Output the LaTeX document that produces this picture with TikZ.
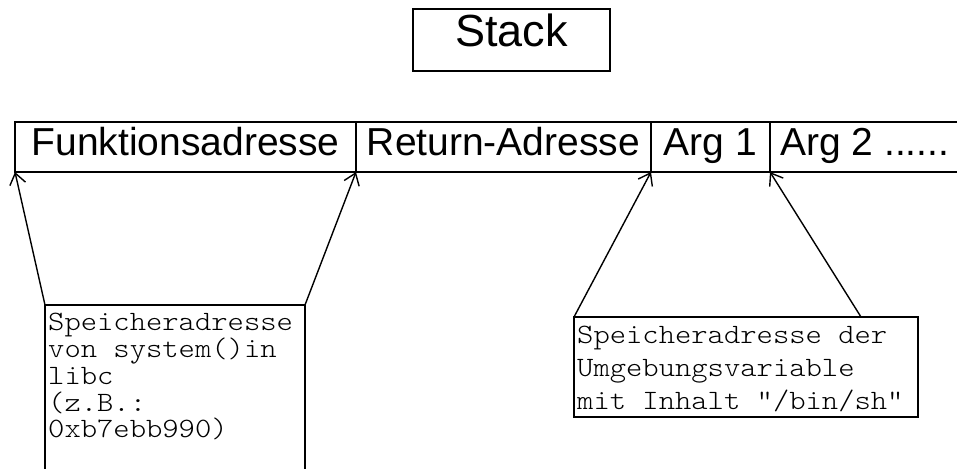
\documentclass[tikz,border=0pt]{standalone}
\usepackage{fontspec}
\setmainfont{Liberation Sans}
\newfontfamily\monofont{lmmonolt10-regular.otf}[FakeStretch=1.11]
\usetikzlibrary{arrows.meta}

\tikzset{
  cell/.style={draw, line width=2pt, inner sep=0pt, outer sep=0pt,
               minimum height=50pt, anchor=north west},
  celltext/.style={font=\fontsize{39}{44}\selectfont, inner sep=0pt, anchor=base},
  titlebox/.style={draw, line width=1.6pt, inner sep=0pt, outer sep=0pt,
                   minimum width=197pt, minimum height=62pt, anchor=north west},
  membox/.style={draw, line width=1.5pt, inner sep=0pt, outer sep=0pt, anchor=north west},
  memtext/.style={inner sep=0pt, anchor=north west, align=left},
  ptr/.style={line width=1.4pt, -{Straight Barb[length=11pt,width=16pt,line width=1.4pt]}}
}

\begin{document}
\begin{tikzpicture}[x=1pt, y=-1pt]
  \useasboundingbox (0,0) rectangle (957,468);
  \clip (0,0) rectangle (957,468);

  % title
  \node[titlebox] (stack) at (413,9) {};
  \node[font=\fontsize{45}{50}\selectfont, inner sep=0pt, anchor=base] (stacklbl)
    at ([yshift=-7pt]stack.center) {Stack};

  % stack frame cells
  \node[cell, minimum width=341pt] (fkt)  at (15,122)  {};
  \node[cell, minimum width=295pt] (ret)  at (356,122) {};
  \node[cell, minimum width=119pt] (arg1) at (651,122) {};
  \node[cell, minimum width=240pt] (arg2) at (770,122) {};

  \node[celltext] (fktlbl)  at ([yshift=-8pt]fkt.center)  {Funktionsadresse};
  \node[celltext] (retlbl)  at ([yshift=-8pt]ret.center)  {Return-Adresse};
  \node[celltext] (arg1lbl) at ([yshift=-8pt]arg1.center) {Arg 1};
  \node[celltext, anchor=base west] (arg2lbl) at ([xshift=10pt, yshift=-8pt]arg2.west) {Arg 2 ......};

  % address of system() in libc
  \node[membox, minimum width=260pt, minimum height=185pt] (sys) at (45,305) {};
  \node[memtext, font=\monofont\fontsize{28}{26.8}\selectfont] (systxt)
    at ([xshift=3pt, yshift=-8pt]sys.north west)
    {Speicheradresse\\von system()in\\libc\\(z.B.:\\0xb7ebb990)};

  % environment variable holding the shell path
  \node[membox, minimum width=344pt, minimum height=100pt] (env) at (574,317) {};
  \node[memtext, font=\monofont\fontsize{28}{32.7}\selectfont] (envtxt)
    at ([xshift=3pt, yshift=-9pt]env.north west)
    {Speicheradresse der\\Umgebungsvariable\\mit Inhalt "/bin/sh"};

  % pointers into the stack frame
  \coordinate (envtip) at ([xshift=-57pt]env.north east);
  \draw[ptr] (sys.north west) -- (fkt.south west);
  \draw[ptr] (sys.north east) -- (fkt.south east);
  \draw[ptr] (env.north west) -- (arg1.south west);
  \draw[ptr] (envtip) -- (arg1.south east);
\end{tikzpicture}
\end{document}
